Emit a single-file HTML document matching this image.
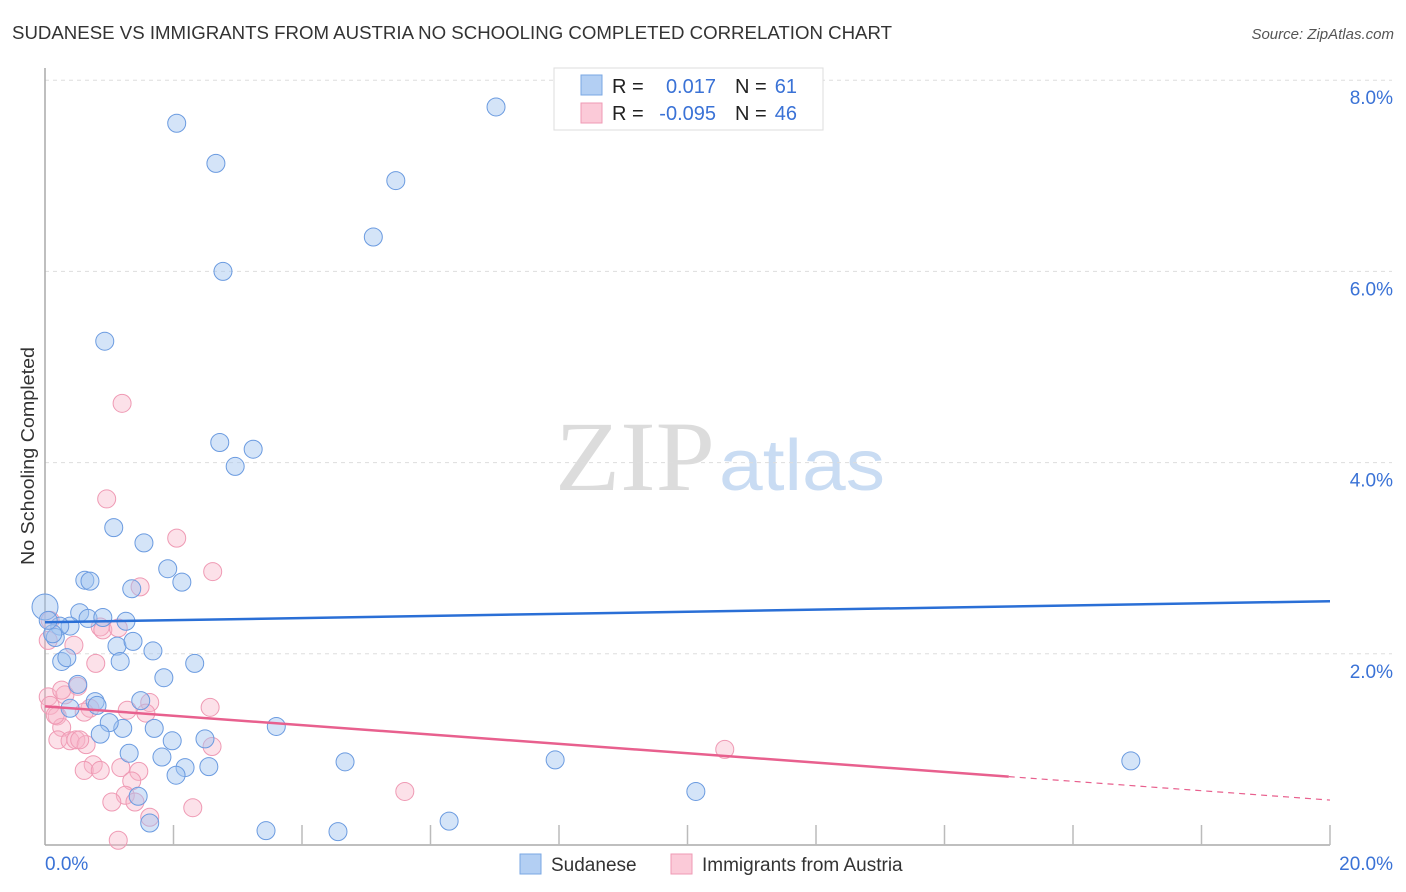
<!DOCTYPE html>
<html><head><meta charset="utf-8"><style>
body{margin:0;background:#fff;font-family:"Liberation Sans",sans-serif;}
</style></head><body>
<svg id="chart" width="1406" height="892" xmlns="http://www.w3.org/2000/svg" style="display:block">
<text x="12" y="39" font-size="18" fill="#333" textLength="880" lengthAdjust="spacingAndGlyphs">SUDANESE VS IMMIGRANTS FROM AUSTRIA NO SCHOOLING COMPLETED CORRELATION CHART</text>
<text x="1394" y="39" font-size="15" fill="#555" text-anchor="end" font-style="italic">Source: ZipAtlas.com</text>
<text transform="translate(34,456) rotate(-90)" font-size="18" fill="#333" text-anchor="middle" textLength="218" lengthAdjust="spacingAndGlyphs">No Schooling Completed</text>
<g>
<text x="635" y="490" font-size="100" font-family="Liberation Serif,serif" fill="#dcdcdc" text-anchor="middle" textLength="160" lengthAdjust="spacingAndGlyphs">ZIP</text>
<text x="802" y="490" font-size="72" fill="#c9dcf3" text-anchor="middle" textLength="166" lengthAdjust="spacingAndGlyphs">atlas</text>
</g>
<g id="grid"></g><g id="axes"></g><g id="pink"></g><g id="blue"></g><g id="lines"></g>
<g>
<rect x="554" y="68" width="269" height="62" fill="#fff" stroke="#ddd"/>
<rect x="581" y="75" width="21" height="20" fill="#b3cff3" stroke="#7aa7e3"/>
<rect x="581" y="103" width="21" height="20" fill="#fbcad8" stroke="#ef9ab4"/>
<text x="612" y="93" font-size="20" fill="#222">R =</text><text x="716" y="93" font-size="20" fill="#3a72d6" text-anchor="end">0.017</text>
<text x="735" y="93" font-size="20" fill="#222">N =</text><text x="797" y="93" font-size="20" fill="#3a72d6" text-anchor="end">61</text>
<text x="612" y="120" font-size="20" fill="#222">R =</text><text x="716" y="120" font-size="20" fill="#3a72d6" text-anchor="end">-0.095</text>
<text x="735" y="120" font-size="20" fill="#222">N =</text><text x="797" y="120" font-size="20" fill="#3a72d6" text-anchor="end">46</text>
</g>
<g>
<rect x="520" y="854" width="21" height="20" fill="#b3cff3" stroke="#7aa7e3"/>
<text x="551" y="871" font-size="19" fill="#333">Sudanese</text>
<rect x="671" y="854" width="21" height="20" fill="#fbcad8" stroke="#ef9ab4"/>
<text x="702" y="871" font-size="19" fill="#333">Immigrants from Austria</text>
</g>
</svg>
<script>
const blueX=[2.05,2.66,7.02,5.46,5.11,2.77,0.93,2.72,3.24,2.96,1.07,1.54,1.91,0.62,0.70,2.13,1.35,0,0.54,0.67,0.90,1.26,0.39,0.23,0.16,1.12,1.37,1.68,0.26,0.34,1.17,2.33,1.85,0.51,0.78,1.49,0.81,0.39,1.70,1.21,1.00,3.60,0.86,2.49,1.98,1.31,1.82,4.67,7.94,16.90,2.55,2.18,2.04,1.45,10.13,1.63,3.44,4.56,6.29,0.12,0.05];
const blueY=[7.55,7.13,7.72,6.95,6.36,6.00,5.27,4.21,4.14,3.96,3.32,3.16,2.89,2.77,2.76,2.75,2.68,2.49,2.43,2.37,2.38,2.34,2.29,2.29,2.17,2.08,2.13,2.03,1.92,1.96,1.92,1.90,1.75,1.68,1.50,1.51,1.46,1.43,1.22,1.22,1.28,1.24,1.16,1.11,1.09,0.96,0.92,0.87,0.89,0.88,0.82,0.81,0.73,0.51,0.56,0.23,0.15,0.14,0.25,2.21,2.35];
const pinkX=[1.20,0.96,2.05,2.61,1.48,0.08,0.05,0.45,0.86,0.90,1.14,0.79,0.51,0.05,0.31,0.08,0.19,0.26,0.16,0.70,0.61,1.63,1.57,1.28,2.57,0.20,0.39,0.48,0.64,0.75,0.61,0.86,1.18,1.46,1.35,1.25,1.04,1.40,2.30,1.63,1.14,5.60,10.58,2.60,0.54,0.26];
const pinkY=[4.62,3.62,3.21,2.86,2.70,2.35,2.14,2.09,2.28,2.25,2.27,1.90,1.66,1.55,1.57,1.46,1.35,1.23,1.36,1.43,1.39,1.49,1.38,1.41,1.44,1.10,1.09,1.10,1.05,0.84,0.78,0.78,0.81,0.77,0.67,0.52,0.45,0.45,0.39,0.29,0.05,0.56,1.00,1.03,1.10,1.62];
const yTicks=[2,4,6,8];
const yTickLabels=["2.0%","4.0%","6.0%","8.0%"];
const xTicks=[2,4,6,8,10,12,14,16,18,20];
const blueTrend=[2.33,2.55];
const pinkTrend=[1.45,0.47];
const pinkSolidEnd=15;
const X=v=>45+v*64.25, Y=v=>845-v*95.6;
const NS="http://www.w3.org/2000/svg";
function mk(p,t,a){const e=document.createElementNS(NS,t);for(const k in a)e.setAttribute(k,a[k]);document.getElementById(p).appendChild(e);return e;}
yTicks.forEach((t,i)=>{
 const l=mk('grid','line',{x1:45,x2:1392,y1:Y(t),y2:Y(t),stroke:'#ddd','stroke-dasharray':'4,4'});
 
 
 const tx=mk('grid','text',{x:1393,y:Y(t)+24,'font-size':19,fill:'#3a72d6','text-anchor':'end'});
 tx.textContent=yTickLabels[i];
 
 
});
const ax=mk('axes','line',{x1:45,x2:45,y1:68,y2:845,stroke:'#aaa','stroke-width':1.5});


const bx=mk('axes','line',{x1:45,x2:1330,y1:845,y2:845,stroke:'#aaa','stroke-width':1.5});


xTicks.forEach(t=>{const l=mk('axes','line',{x1:X(t),x2:X(t),y1:825,y2:845,stroke:'#bbb','stroke-width':1.5});
 
 });
const x0=mk('axes','text',{x:45,y:870,'font-size':19,fill:'#3a72d6'});x0.textContent='0.0%';


const x1=mk('axes','text',{x:1393,y:870,'font-size':19,fill:'#3a72d6','text-anchor':'end'});x1.textContent='20.0%';


blueX.forEach((v,i)=>{const c=mk('blue','circle',{cx:X(v),cy:Y(blueY[i]),r:i==17?13:9,fill:'rgba(160,196,240,0.45)',stroke:'#6b9be0','stroke-width':1});
 
 });
pinkX.forEach((v,i)=>{const c=mk('pink','circle',{cx:X(v),cy:Y(pinkY[i]),r:9,fill:'rgba(248,180,200,0.4)',stroke:'#ef9ab4','stroke-width':1});
 
 });
const bl=mk('lines','line',{x1:X(0),y1:Y(blueTrend[0]),x2:X(20),y2:Y(blueTrend[1]),stroke:'#2a6fd6','stroke-width':2.5});


const pm=pinkTrend[0]+(pinkTrend[1]-pinkTrend[0])*pinkSolidEnd/20;
const pl=mk('lines','line',{x1:X(0),y1:Y(pinkTrend[0]),x2:X(pinkSolidEnd),y2:Y(pm),stroke:'#e8608e','stroke-width':2.5});


const pd=mk('lines','line',{x1:X(pinkSolidEnd),y1:Y(pm),x2:X(20),y2:Y(pinkTrend[1]),stroke:'#e8608e','stroke-width':1.2,'stroke-dasharray':'6,5'});


</script>
</body></html>
